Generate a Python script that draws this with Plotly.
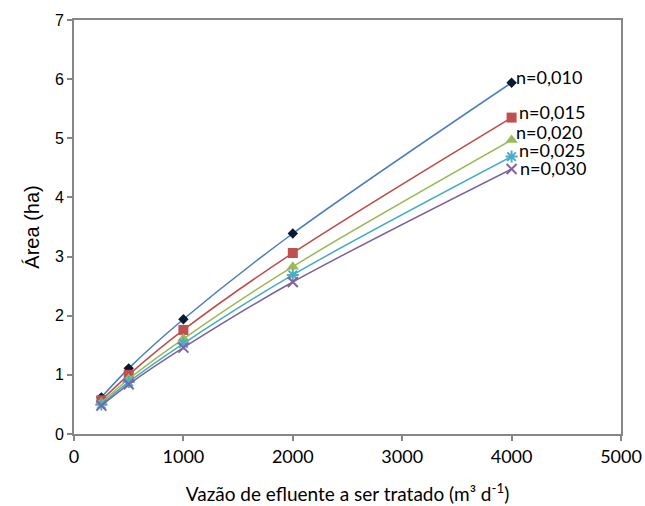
import plotly.graph_objects as go

vazao = [250, 500, 1000, 2000, 4000]
n010 = [0.62, 1.11, 1.94, 3.39, 5.94]
n015 = [0.57, 1.00, 1.76, 3.06, 5.35]
n020 = [0.53, 0.93, 1.61, 2.83, 4.97]
n025 = [0.50, 0.88, 1.53, 2.69, 4.69]
n030 = [0.48, 0.84, 1.46, 2.57, 4.48]
labels = ["n=0,010", "n=0,015", "n=0,020", "n=0,025", "n=0,030"]
x_ticks = [0, 1000, 2000, 3000, 4000, 5000]
y_ticks = [0, 1, 2, 3, 4, 5, 6, 7]

series = [n010, n015, n020, n025, n030]
line_colors = ["#4A7EBB", "#BE4B48", "#98B954", "#46AAC5", "#7D60A0"]
marker_colors = ["#0B1A33", "#C0504D", "#9BBB59", "#4BACC6", "#8064A2"]
symbols = ["diamond", "square", "triangle-up", "asterisk-open", "x-thin-open"]
sizes = [8, 10, 11, 10, 10]
label_shift = [(3, 6), (6, 6), (3, 8), (6, 7), (7, 1)]

fig = go.Figure()
for i, ys in enumerate(series):
    mk = dict(symbol=symbols[i], size=sizes[i], color=marker_colors[i])
    if "open" in symbols[i]:
        mk["line"] = dict(color=marker_colors[i], width=2)
    fig.add_trace(go.Scatter(
        x=vazao, y=ys, mode="lines+markers", name=labels[i],
        line=dict(color=line_colors[i], width=1.5, shape="spline", smoothing=0.9),
        marker=mk, showlegend=False))
    fig.add_annotation(x=vazao[-1], y=ys[-1], text=labels[i], showarrow=False,
                       xanchor="left", yanchor="middle", borderpad=0,
                       xshift=label_shift[i][0], yshift=label_shift[i][1],
                       font=dict(family="Lato", size=18, color="#000000"))

axis_common = dict(showgrid=False, zeroline=False, showline=True, linecolor="#868686",
                   linewidth=2, ticks="outside", ticklen=5, tickcolor="#868686",
                   tickwidth=1.5, mirror=True, automargin=False)

fig.update_xaxes(range=[0, 5000], tickvals=x_ticks, **axis_common,
                 tickfont=dict(family="Lato", size=18, color="#000000"),
                 title=dict(text="Vazão de efluente a ser tratado (m³ d<sup>-1</sup>)",
                            font=dict(family="Lato", size=19, color="#000000"), standoff=22))
fig.update_yaxes(range=[0, 7], tickvals=y_ticks, **axis_common,
                 tickfont=dict(family="Liberation Sans", size=16, color="#000000"),
                 title=dict(text="Área (ha)",
                            font=dict(family="Liberation Sans", size=20, color="#000000"), standoff=10))

fig.update_layout(width=645, height=506, plot_bgcolor="white", paper_bgcolor="white",
                  margin=dict(l=74, r=24, t=20, b=72))

fig.write_html("out.html")
